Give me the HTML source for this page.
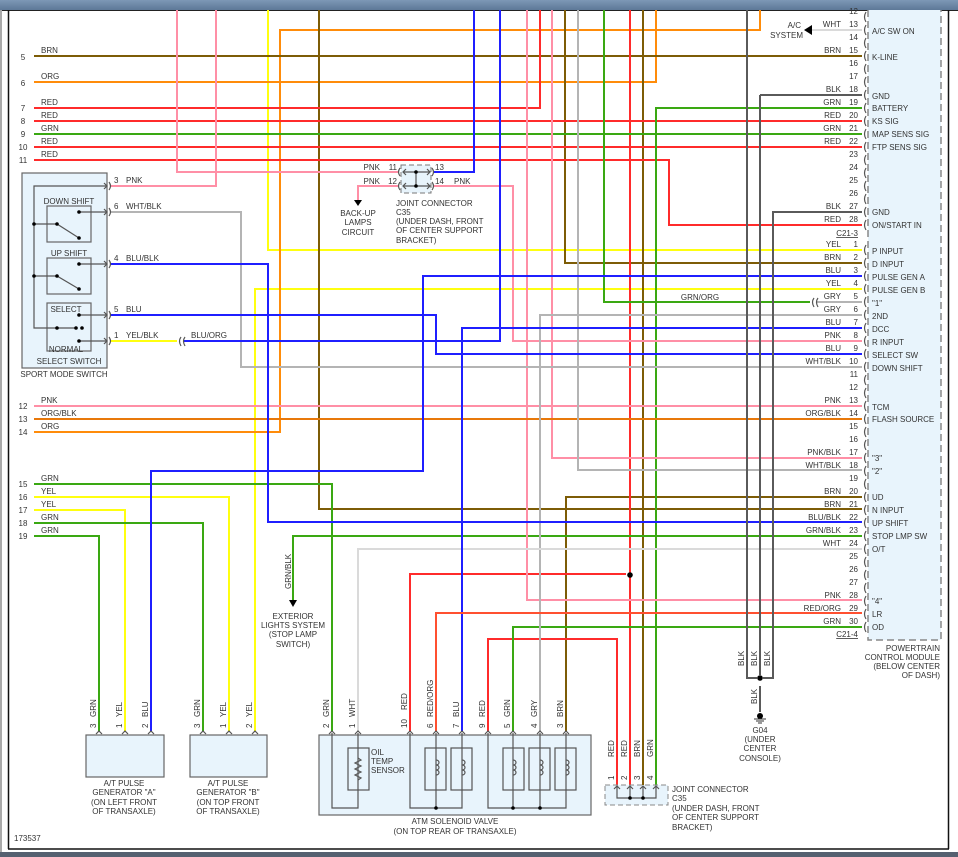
<!DOCTYPE html>
<html><head><meta charset="utf-8"><style>
html,body{margin:0;padding:0;background:#fff}
svg{display:block}
text{font-family:"Liberation Sans",sans-serif;font-size:8px;fill:#333}
.w{fill:none;stroke-width:2}
.red{stroke:#ff2b2b}.brn{stroke:#7d5c06}.org{stroke:#ff8c0a}.grn{stroke:#3aa812}.blu{stroke:#1f1fff}
.pnk{stroke:#ff8fa6}.yel{stroke:#ffff10}.gry{stroke:#b4b4b4}.dk{stroke:#5a5a5a}.wht{stroke:#dadada}.ob{stroke:#e8780a}.ro{stroke:#ff5030}
.bx{fill:#e8f4fc;stroke:#666;stroke-width:1.2}
.ln{fill:none;stroke:#555;stroke-width:1.2}
.r{text-anchor:end}.m{text-anchor:middle}
</style></head><body>
<svg width="958" height="857" viewBox="0 0 958 857" xmlns="http://www.w3.org/2000/svg">
<defs><linearGradient id="tb" x1="0" y1="0" x2="0" y2="1"><stop offset="0" stop-color="#7d98b6"/><stop offset="1" stop-color="#5d7897"/></linearGradient></defs>
<rect x="0" y="0" width="958" height="10" fill="url(#tb)"/>
<line x1="0" y1="10.5" x2="958" y2="10.5" stroke="#222" stroke-width="1"/>
<rect x="0" y="10" width="2" height="842" fill="#aaa"/>
<line x1="8.5" y1="10" x2="8.5" y2="849" stroke="#111" stroke-width="1.5"/>
<line x1="948.5" y1="10" x2="948.5" y2="849" stroke="#111" stroke-width="1.5"/>
<line x1="8" y1="849" x2="949" y2="849" stroke="#111" stroke-width="1.5"/>
<rect x="0" y="852" width="958" height="5" fill="#556070"/>

<!-- PCM box -->
<rect x="868" y="10" width="73" height="630" fill="#e8f4fc"/>
<path d="M868,10V640H941V10" fill="none" stroke="#888" stroke-width="1.5" stroke-dasharray="7,4"/>

<!-- wires -->
<g class="w">
<path class="yel" d="M268,10V250H862"/>
<path class="yel" d="M255,731V289H862"/>
<path class="yel" d="M110,341H177"/>
<path class="yel" d="M34,497H229V731M34,510H125V731"/>
<path class="org" d="M34,82H656V10"/>
<path class="org" d="M760,10V30H280V432H34"/>
<path class="brn" d="M34,56H862"/>
<path class="brn" d="M319,10V509H862"/>
<path class="brn" d="M565,10V263H862"/>
<path class="brn" d="M862,497H566V731"/>
<path class="brn" d="M643,10V787"/>
<path class="red" d="M34,108H540V10"/>
<path class="red" d="M34,121H862M34,147H862"/>
<path class="red" d="M34,160H669V225H862"/>
<path class="red" d="M630,10V787"/>
<path class="red" d="M410,731V574H626"/>
<path class="red" d="M488,731V639H617V787"/>
<path class="grn" d="M34,134H862"/>
<path class="grn" d="M656,787V108H862"/>
<path class="grn" d="M604,10V302H810"/>
<path class="grn" d="M34,484H332V731M34,523H203V731M34,536H99V731"/>
<path class="grn" d="M862,536H293V600"/>
<path class="grn" d="M862,627H513V731"/>
<path class="pnk" d="M177,10V172H398"/>
<path class="pnk" d="M216,10V186H110"/>
<path class="pnk" d="M398,186H358V200"/>
<path class="pnk" d="M434,186H513V341H862"/>
<path class="pnk" d="M527,10V600H862"/>
<path class="pnk" d="M552,10V458H862"/>
<path class="pnk" d="M34,406H862"/>
<path class="ob" d="M34,419H862"/>
<path class="gry" d="M578,10V470H862"/>
<path class="gry" d="M816,302H862"/>
<path class="gry" d="M110,212H241V367H862"/>
<path class="gry" d="M862,315H540V731"/>
<path class="wht" d="M862,549H358V731"/>
<path class="wht" d="M812,30H862"/>
<path class="blu" d="M474,10V172H434"/>
<path class="blu" d="M500,10V341H183"/>
<path class="blu" d="M110,264H268V522H862"/>
<path class="blu" d="M862,276H423V471H151V731"/>
<path class="blu" d="M110,315H436V354H862"/>
<path class="blu" d="M462,731V328H862"/>
<path class="ro" d="M862,613H436V731"/>
<path class="dk" d="M747,10V678H757M763,678H773V212H862M760,95H862M760,95V675M760,686V712"/>
</g>
<circle cx="630" cy="575" r="2.8" fill="#000"/>
<circle cx="760" cy="678" r="2.8" fill="#000"/>
<!-- inline connectors -->
<path class="ln" d="M181,337q-3,4 0,9M185,337q-3,4 0,9M814,298q-3,4 0,9M818,298q-3,4 0,9"/>
<!-- A/C arrow -->
<path d="M804,30l8,-5v10z" fill="#000"/>
<text class="r" x="801" y="28">A/C</text><text class="r" x="803" y="38">SYSTEM</text>

<!-- PCM pin marks, numbers -->
<g class="ln">
<path d="M866,12q-3,5 0,10M866,25q-3,5 0,10M866,38q-3,5 0,10M866,51q-3,5 0,10M866,64q-3,5 0,10M866,77q-3,5 0,10M866,90q-3,5 0,10M866,103q-3,5 0,10M866,116q-3,5 0,10M866,129q-3,5 0,10M866,142q-3,5 0,10M866,155q-3,5 0,10M866,168q-3,5 0,10M866,181q-3,5 0,10M866,194q-3,5 0,10M866,207q-3,5 0,10M866,220q-3,5 0,10"/>
<path d="M866,245q-3,5 0,10M866,258q-3,5 0,10M866,271q-3,5 0,10M866,284q-3,5 0,10M866,297q-3,5 0,10M866,310q-3,5 0,10M866,323q-3,5 0,10M866,336q-3,5 0,10M866,349q-3,5 0,10M866,362q-3,5 0,10M866,375q-3,5 0,10M866,388q-3,5 0,10M866,401q-3,5 0,10M866,414q-3,5 0,10M866,427q-3,5 0,10M866,440q-3,5 0,10M866,453q-3,5 0,10M866,466q-3,5 0,10M866,479q-3,5 0,10M866,492q-3,5 0,10M866,505q-3,5 0,10M866,518q-3,5 0,10M866,531q-3,5 0,10M866,544q-3,5 0,10M866,557q-3,5 0,10M866,570q-3,5 0,10M866,583q-3,5 0,10M866,596q-3,5 0,10M866,609q-3,5 0,10M866,622q-3,5 0,10"/>
</g>
<g class="r">
<text class="r" x="858" y="14">12</text><text class="r" x="858" y="27">13</text><text class="r" x="858" y="40">14</text><text class="r" x="858" y="53">15</text><text class="r" x="858" y="66">16</text><text class="r" x="858" y="79">17</text><text class="r" x="858" y="92">18</text><text class="r" x="858" y="105">19</text><text class="r" x="858" y="118">20</text><text class="r" x="858" y="131">21</text><text class="r" x="858" y="144">22</text><text class="r" x="858" y="157">23</text><text class="r" x="858" y="170">24</text><text class="r" x="858" y="183">25</text><text class="r" x="858" y="196">26</text><text class="r" x="858" y="209">27</text><text class="r" x="858" y="222">28</text>
<text class="r" x="841" y="27">WHT</text><text class="r" x="841" y="53">BRN</text><text class="r" x="841" y="92">BLK</text><text class="r" x="841" y="105">GRN</text><text class="r" x="841" y="118">RED</text><text class="r" x="841" y="131">GRN</text><text class="r" x="841" y="144">RED</text><text class="r" x="841" y="209">BLK</text><text class="r" x="841" y="222">RED</text>
<text class="r" x="858" y="236" text-decoration="underline">C21-3</text>
<text class="r" x="858" y="247">1</text><text class="r" x="858" y="260">2</text><text class="r" x="858" y="273">3</text><text class="r" x="858" y="286">4</text><text class="r" x="858" y="299">5</text><text class="r" x="858" y="312">6</text><text class="r" x="858" y="325">7</text><text class="r" x="858" y="338">8</text><text class="r" x="858" y="351">9</text><text class="r" x="858" y="364">10</text><text class="r" x="858" y="377">11</text><text class="r" x="858" y="390">12</text><text class="r" x="858" y="403">13</text><text class="r" x="858" y="416">14</text><text class="r" x="858" y="429">15</text><text class="r" x="858" y="442">16</text><text class="r" x="858" y="455">17</text><text class="r" x="858" y="468">18</text><text class="r" x="858" y="481">19</text><text class="r" x="858" y="494">20</text><text class="r" x="858" y="507">21</text><text class="r" x="858" y="520">22</text><text class="r" x="858" y="533">23</text><text class="r" x="858" y="546">24</text><text class="r" x="858" y="559">25</text><text class="r" x="858" y="572">26</text><text class="r" x="858" y="585">27</text><text class="r" x="858" y="598">28</text><text class="r" x="858" y="611">29</text><text class="r" x="858" y="624">30</text>
<text class="r" x="841" y="247">YEL</text><text class="r" x="841" y="260">BRN</text><text class="r" x="841" y="273">BLU</text><text class="r" x="841" y="286">YEL</text><text class="r" x="841" y="299">GRY</text><text class="r" x="841" y="312">GRY</text><text class="r" x="841" y="325">BLU</text><text class="r" x="841" y="338">PNK</text><text class="r" x="841" y="351">BLU</text><text class="r" x="841" y="364">WHT/BLK</text><text class="r" x="841" y="403">PNK</text><text class="r" x="841" y="416">ORG/BLK</text><text class="r" x="841" y="455">PNK/BLK</text><text class="r" x="841" y="468">WHT/BLK</text><text class="r" x="841" y="494">BRN</text><text class="r" x="841" y="507">BRN</text><text class="r" x="841" y="520">BLU/BLK</text><text class="r" x="841" y="533">GRN/BLK</text><text class="r" x="841" y="546">WHT</text><text class="r" x="841" y="598">PNK</text><text class="r" x="841" y="611">RED/ORG</text><text class="r" x="841" y="624">GRN</text>
<text class="r" x="858" y="637" text-decoration="underline">C21-4</text>
</g>
<text x="700" y="300" class="m">GRN/ORG</text>
<g>
<text x="872" y="34">A/C SW ON</text><text x="872" y="60">K-LINE</text><text x="872" y="99">GND</text><text x="872" y="111">BATTERY</text><text x="872" y="124">KS SIG</text><text x="872" y="137">MAP SENS SIG</text><text x="872" y="150">FTP SENS SIG</text><text x="872" y="215">GND</text><text x="872" y="228">ON/START IN</text>
<text x="872" y="254">P INPUT</text><text x="872" y="267">D INPUT</text><text x="872" y="280">PULSE GEN A</text><text x="872" y="293">PULSE GEN B</text><text x="872" y="306">"1"</text><text x="872" y="319">2ND</text><text x="872" y="332">DCC</text><text x="872" y="345">R INPUT</text><text x="872" y="358">SELECT SW</text><text x="872" y="371">DOWN SHIFT</text><text x="872" y="410">TCM</text><text x="872" y="422">FLASH SOURCE</text><text x="872" y="461">"3"</text><text x="872" y="474">"2"</text><text x="872" y="500">UD</text><text x="872" y="513">N INPUT</text><text x="872" y="526">UP SHIFT</text><text x="872" y="539">STOP LMP SW</text><text x="872" y="552">O/T</text><text x="872" y="604">"4"</text><text x="872" y="617">LR</text><text x="872" y="630">OD</text>
</g>
<text class="r" x="940" y="651">POWERTRAIN</text><text class="r" x="940" y="660">CONTROL MODULE</text><text class="r" x="940" y="669">(BELOW CENTER</text><text class="r" x="940" y="678">OF DASH)</text>

<!-- left rows -->
<g class="m">
<text x="23" y="60">5</text><text x="23" y="86">6</text><text x="23" y="111">7</text><text x="23" y="124">8</text><text x="23" y="137">9</text><text x="23" y="150">10</text><text x="23" y="163">11</text>
<text x="23" y="409">12</text><text x="23" y="422">13</text><text x="23" y="435">14</text>
<text x="23" y="487">15</text><text x="23" y="500">16</text><text x="23" y="513">17</text><text x="23" y="526">18</text><text x="23" y="539">19</text>
</g>
<g>
<text x="41" y="53">BRN</text><text x="41" y="79">ORG</text><text x="41" y="105">RED</text><text x="41" y="118">RED</text><text x="41" y="131">GRN</text><text x="41" y="144">RED</text><text x="41" y="157">RED</text>
<text x="41" y="403">PNK</text><text x="41" y="416">ORG/BLK</text><text x="41" y="429">ORG</text>
<text x="41" y="481">GRN</text><text x="41" y="494">YEL</text><text x="41" y="507">YEL</text><text x="41" y="520">GRN</text><text x="41" y="533">GRN</text>
</g>

<!-- sport mode switch -->
<rect class="bx" x="22" y="173" width="85" height="195"/>
<rect class="bx" x="47" y="206" width="44" height="36"/>
<rect class="bx" x="47" y="258" width="44" height="36"/>
<rect class="bx" x="47" y="303" width="44" height="48"/>
<path class="ln" d="M107,186H34V328H76M34,224H57L79,238M34,276H57L79,289M79,212H107M79,264H107M79,315H107M79,341H107M104,183l3,3l-3,3M104,209l3,3l-3,3M104,261l3,3l-3,3M104,312l3,3l-3,3M104,338l3,3l-3,3"/>
<path class="ln" d="M109,182q3,4 0,8M109,208q3,4 0,8M109,260q3,4 0,8M109,311q3,4 0,8M109,337q3,4 0,8"/>
<g fill="#000"><circle cx="34" cy="224" r="1.8"/><circle cx="34" cy="276" r="1.8"/><circle cx="57" cy="224" r="1.8"/><circle cx="79" cy="238" r="1.8"/><circle cx="79" cy="212" r="1.8"/><circle cx="57" cy="276" r="1.8"/><circle cx="79" cy="289" r="1.8"/><circle cx="79" cy="264" r="1.8"/><circle cx="57" cy="328" r="1.8"/><circle cx="76" cy="328" r="1.8"/><circle cx="82" cy="328" r="1.8"/><circle cx="79" cy="315" r="1.8"/><circle cx="79" cy="341" r="1.8"/></g>
<text class="m" x="69" y="204">DOWN SHIFT</text><text class="m" x="69" y="256">UP SHIFT</text><text class="m" x="66" y="312">SELECT</text><text class="m" x="66" y="352">NORMAL</text><text class="m" x="69" y="364">SELECT SWITCH</text><text class="m" x="64" y="377">SPORT MODE SWITCH</text>
<text x="114" y="183">3</text><text x="126" y="183">PNK</text>
<text x="114" y="209">6</text><text x="126" y="209">WHT/BLK</text>
<text x="114" y="261">4</text><text x="126" y="261">BLU/BLK</text>
<text x="114" y="312">5</text><text x="126" y="312">BLU</text>
<text x="114" y="338">1</text><text x="126" y="338">YEL/BLK</text>
<text x="191" y="338">BLU/ORG</text>

<!-- joint connector top -->
<rect x="401" y="165" width="30" height="28" fill="#e8f4fc" stroke="#777" stroke-dasharray="5,3"/>
<path class="ln" d="M403,172H430M403,186H430M416,172V186M406,169l-3,3l3,3M427,169l3,3l-3,3M406,183l-3,3l3,3M427,183l3,3l-3,3M400,168q-3,4 0,8M400,182q-3,4 0,8M432,168q3,4 0,8M432,182q3,4 0,8"/>
<circle cx="416" cy="172" r="1.8"/><circle cx="416" cy="186" r="1.8"/>
<text class="r" x="380" y="170">PNK</text><text class="r" x="397" y="170">11</text>
<text class="r" x="380" y="184">PNK</text><text class="r" x="397" y="184">12</text>
<text x="435" y="170">13</text><text x="435" y="184">14</text><text x="454" y="184">PNK</text>
<path d="M354,200h8l-4,6z" fill="#000"/>
<text class="m" x="358" y="216">BACK-UP</text><text class="m" x="358" y="225">LAMPS</text><text class="m" x="358" y="235">CIRCUIT</text>
<text x="396" y="206">JOINT CONNECTOR</text><text x="396" y="215">C35</text><text x="396" y="224">(UNDER DASH, FRONT</text><text x="396" y="233">OF CENTER SUPPORT</text><text x="396" y="243">BRACKET)</text>

<!-- exterior lights -->
<path d="M289,600h8l-4,7z" fill="#000"/>
<text transform="translate(291,589) rotate(-90)">GRN/BLK</text>
<text class="m" x="293" y="619">EXTERIOR</text><text class="m" x="293" y="628">LIGHTS SYSTEM</text><text class="m" x="293" y="637">(STOP LAMP</text><text class="m" x="293" y="647">SWITCH)</text>

<!-- pulse generators -->
<rect class="bx" x="86" y="735" width="78" height="42"/>
<rect class="bx" x="190" y="735" width="77" height="42"/>
<path class="ln" d="M96,734l3,-3l3,3M122,734l3,-3l3,3M148,734l3,-3l3,3M200,734l3,-3l3,3M226,734l3,-3l3,3M252,734l3,-3l3,3"/>
<g>
<text transform="translate(96,728) rotate(-90)">3</text><text transform="translate(96,717) rotate(-90)">GRN</text>
<text transform="translate(122,728) rotate(-90)">1</text><text transform="translate(122,717) rotate(-90)">YEL</text>
<text transform="translate(148,728) rotate(-90)">2</text><text transform="translate(148,717) rotate(-90)">BLU</text>
<text transform="translate(200,728) rotate(-90)">3</text><text transform="translate(200,717) rotate(-90)">GRN</text>
<text transform="translate(226,728) rotate(-90)">1</text><text transform="translate(226,717) rotate(-90)">YEL</text>
<text transform="translate(252,728) rotate(-90)">2</text><text transform="translate(252,717) rotate(-90)">YEL</text>
</g>
<text class="m" x="124" y="786">A/T PULSE</text><text class="m" x="124" y="795">GENERATOR "A"</text><text class="m" x="124" y="805">(ON LEFT FRONT</text><text class="m" x="124" y="814">OF TRANSAXLE)</text>
<text class="m" x="228" y="786">A/T PULSE</text><text class="m" x="228" y="795">GENERATOR "B"</text><text class="m" x="228" y="805">(ON TOP FRONT</text><text class="m" x="228" y="814">OF TRANSAXLE)</text>

<!-- ATM solenoid -->
<rect class="bx" x="319" y="735" width="272" height="80"/>
<g fill="#e8f4fc" stroke="#555" stroke-width="1.2">
<rect x="348" y="748" width="21" height="42"/><rect x="425" y="748" width="21" height="42"/><rect x="451" y="748" width="21" height="42"/><rect x="503" y="748" width="21" height="42"/><rect x="529" y="748" width="21" height="42"/><rect x="555" y="748" width="21" height="42"/>
</g>
<path class="ln" d="M332,733V808H358V733M410,733V808H462V733M436,733V808M488,733V808H566V733M513,733V808M540,733V808"/>
<path class="ln" d="M358,758l3,2l-6,3l6,3l-6,3l6,3l-6,3l6,3l-3,2"/>
<path class="ln" d="M436,760c4,0 4,5 0,5c4,0 4,5 0,5c4,0 4,5 0,5M462,760c4,0 4,5 0,5c4,0 4,5 0,5c4,0 4,5 0,5M513,760c4,0 4,5 0,5c4,0 4,5 0,5c4,0 4,5 0,5M540,760c4,0 4,5 0,5c4,0 4,5 0,5c4,0 4,5 0,5M566,760c4,0 4,5 0,5c4,0 4,5 0,5c4,0 4,5 0,5"/>
<path class="ln" d="M329,734l3,-3l3,3M355,734l3,-3l3,3M407,734l3,-3l3,3M433,734l3,-3l3,3M459,734l3,-3l3,3M485,734l3,-3l3,3M510,734l3,-3l3,3M537,734l3,-3l3,3M563,734l3,-3l3,3"/>
<g fill="#000"><circle cx="436" cy="808" r="1.8"/><circle cx="513" cy="808" r="1.8"/><circle cx="540" cy="808" r="1.8"/></g>
<text x="371" y="755">OIL</text><text x="371" y="764">TEMP</text><text x="371" y="773">SENSOR</text>
<g>
<text transform="translate(329,728) rotate(-90)">2</text><text transform="translate(329,717) rotate(-90)">GRN</text>
<text transform="translate(355,728) rotate(-90)">1</text><text transform="translate(355,717) rotate(-90)">WHT</text>
<text transform="translate(407,728) rotate(-90)">10</text><text transform="translate(407,710) rotate(-90)">RED</text>
<text transform="translate(433,728) rotate(-90)">6</text><text transform="translate(433,717) rotate(-90)">RED/ORG</text>
<text transform="translate(459,728) rotate(-90)">7</text><text transform="translate(459,717) rotate(-90)">BLU</text>
<text transform="translate(485,728) rotate(-90)">9</text><text transform="translate(485,717) rotate(-90)">RED</text>
<text transform="translate(510,728) rotate(-90)">5</text><text transform="translate(510,717) rotate(-90)">GRN</text>
<text transform="translate(537,728) rotate(-90)">4</text><text transform="translate(537,717) rotate(-90)">GRY</text>
<text transform="translate(563,728) rotate(-90)">3</text><text transform="translate(563,717) rotate(-90)">BRN</text>
</g>
<text class="m" x="455" y="824">ATM SOLENOID VALVE</text><text class="m" x="455" y="834">(ON TOP REAR OF TRANSAXLE)</text>

<!-- bottom joint connector -->
<rect x="605" y="785" width="63" height="20" fill="#e8f4fc" stroke="#888" stroke-dasharray="5,3"/>
<path class="ln" d="M617,787V798H656V787M630,787V798M643,787V798M614,789l3,-3l3,3M627,789l3,-3l3,3M640,789l3,-3l3,3M653,789l3,-3l3,3"/>
<circle cx="630" cy="798" r="1.8"/><circle cx="643" cy="798" r="1.8"/>
<g>
<text transform="translate(614,780) rotate(-90)">1</text><text transform="translate(627,780) rotate(-90)">2</text><text transform="translate(640,780) rotate(-90)">3</text><text transform="translate(653,780) rotate(-90)">4</text>
<text transform="translate(614,757) rotate(-90)">RED</text><text transform="translate(627,757) rotate(-90)">RED</text><text transform="translate(640,757) rotate(-90)">BRN</text><text transform="translate(653,757) rotate(-90)">GRN</text>
</g>
<text x="672" y="792">JOINT CONNECTOR</text><text x="672" y="801">C35</text><text x="672" y="811">(UNDER DASH, FRONT</text><text x="672" y="820">OF CENTER SUPPORT</text><text x="672" y="830">BRACKET)</text>

<!-- ground -->
<g>
<text transform="translate(744,666) rotate(-90)">BLK</text><text transform="translate(757,666) rotate(-90)">BLK</text><text transform="translate(770,666) rotate(-90)">BLK</text>
<text transform="translate(757,704) rotate(-90)">BLK</text>
</g>
<circle cx="760" cy="716" r="3" fill="#000"/>
<path d="M754,719h12M756,721h8M758,723h4" stroke="#333" stroke-width="1"/>
<text class="m" x="760" y="733">G04</text><text class="m" x="760" y="742">(UNDER</text><text class="m" x="760" y="751">CENTER</text><text class="m" x="760" y="761">CONSOLE)</text>

<text x="14" y="841">173537</text>
</svg>
</body></html>
